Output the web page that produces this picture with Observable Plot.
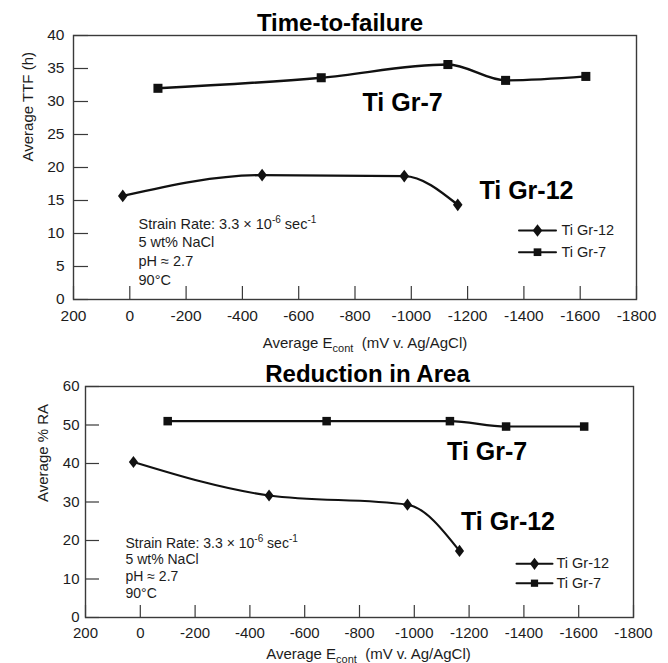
<!DOCTYPE html>
<html><head><meta charset="utf-8">
<script src="https://cdn.jsdelivr.net/npm/d3@7"></script>
<script src="https://cdn.jsdelivr.net/npm/@observablehq/plot@0.6"></script>
<style>
body{margin:0;background:#fff;font-family:"Liberation Sans",Arial,Helvetica,sans-serif;}
#c{width:668px;height:663px;overflow:hidden;}
#c svg{display:block;}
</style></head><body><div id="c"></div>
<script>
// ---- data ----
const xTicks = [200, 0, -200, -400, -600, -800, -1000, -1200, -1400, -1600, -1800];
const ttfTicks = [0, 5, 10, 15, 20, 25, 30, 35, 40];
const raTicks = [0, 10, 20, 30, 40, 50, 60];
const seriesNames = ["Ti Gr-12", "Ti Gr-7"];
const econt12 = [25, -470, -975, -1165];
const econt7 = [-100, -680, -1130, -1335, -1620];
const ttf12 = [15.7, 18.85, 18.7, 14.35];
const ttf7 = [32.0, 33.6, 35.6, 33.2, 33.8];
const ra12 = [40.4, 31.7, 29.3, 17.3];
const ra7 = [51.0, 51.0, 51.0, 49.6, 49.6];
const conditions = ["Strain Rate: 3.3 \u00d7 10^{-6} sec^{-1}", "5 wt% NaCl", "pH \u2248 2.7", "90\u00b0C"];
const xLabel = "Average E_{cont}  (mV v. Ag/AgCl)";
const titles = ["Time-to-failure", "Reduction in Area"];
const yLabels = ["Average TTF (h)", "Average % RA"];

const FONT = "'Liberation Sans', Arial, Helvetica, sans-serif";
const INK = "#1c1c1c";

const diamond = {draw(ctx, size) {
  const h = Math.sqrt(size / 1.5), w = h * 0.75;
  ctx.moveTo(0, -h); ctx.lineTo(w, 0); ctx.lineTo(0, h); ctx.lineTo(-w, 0); ctx.closePath();
}};
const segment = {draw(ctx, l) { ctx.moveTo(0, 0); ctx.lineTo(0, -l); }};

function richify(svg) {
  const ns = "http://www.w3.org/2000/svg";
  d3.select(svg).selectAll("text").each(function() {
    const t = this.textContent;
    if (!/[_^]\{/.test(t)) return;
    const parts = t.split(/([_^]\{[^}]*\})/).filter(p => p);
    while (this.firstChild) this.removeChild(this.firstChild);
    let shift = 0;
    for (const p of parts) {
      const ts = document.createElementNS(ns, "tspan");
      if (p.startsWith("_{") || p.startsWith("^{")) {
        const s = p.startsWith("_{") ? 4 : -6;
        ts.textContent = p.slice(2, -1);
        ts.setAttribute("dy", s - shift);
        ts.setAttribute("font-size", p.startsWith("_{") ? "11" : "10");
        shift = s;
      } else {
        ts.textContent = p;
        if (shift) ts.setAttribute("dy", -shift);
        shift = 0;
      }
      this.appendChild(ts);
    }
  });
}

function chart(cfg) {
  const W = 668;
  const fw = W - cfg.ml - cfg.mr, fh = cfg.h - cfg.mt - cfg.mb;
  const d12 = econt12.map((x, i) => ({x, y: cfg.v12[i]}));
  const d7 = econt7.map((x, i) => ({x, y: cfg.v7[i]}));
  const n = conditions.length;
  const marks = [
    Plot.frame({stroke: "#3a3a3a", strokeWidth: 1.4}),
    Plot.tickY(cfg.yTicks, {y: d => d, insetRight: fw - cfg.yTickLen, stroke: "#3a3a3a", strokeWidth: 1.2}),
    Plot.tickX(xTicks, {x: d => d, insetTop: fh - cfg.xTickLen, stroke: "#3a3a3a", strokeWidth: 1.2}),
    Plot.axisX({ticks: xTicks, tickSize: 0, tickPadding: cfg.xPad, tickFormat: d => String(d), fontSize: cfg.tickFont, label: null, fill: INK}),
    Plot.axisY({ticks: cfg.yTicks, tickSize: 0, tickPadding: cfg.yPad, tickFormat: d => String(d), fontSize: cfg.tickFont, label: null, fill: INK}),
    Plot.line(d12, {x: "x", y: "y", curve: "monotone-x", stroke: "#111", strokeWidth: cfg.lw}),
    Plot.line(d7, {x: "x", y: "y", curve: "monotone-x", stroke: "#111", strokeWidth: cfg.lw}),
    Plot.dot(d12, {x: "x", y: "y", symbol: diamond, r: cfg.dr, fill: "#111", stroke: "none"}),
    Plot.dot(d7, {x: "x", y: "y", symbol: "square", r: cfg.sr, fill: "#111", stroke: "none"}),
    // title
    Plot.text([cfg.title], {frameAnchor: "top", text: d => d, dx: cfg.titleDx, dy: cfg.titleDy, lineAnchor: "bottom", fontSize: cfg.titleFont, fontWeight: "bold", fill: "#000"}),
    // axis labels
    Plot.text([cfg.yLabel], {frameAnchor: "left", text: d => d, dx: cfg.yLabDx, dy: cfg.yLabDy, rotate: -90, lineAnchor: "middle", fontSize: cfg.labFont, fill: INK}),
    Plot.text([xLabel], {frameAnchor: "bottom", text: d => d, dx: cfg.xLabDx, dy: cfg.xLabDy, lineAnchor: "bottom", fontSize: cfg.labFont, fill: INK}),
    // conditions
    ...conditions.map((t, i) => Plot.text([t], {frameAnchor: "bottom-left", text: d => d, dx: cfg.annDx, dy: -cfg.annBottom - (n - 1 - i) * cfg.annStep, textAnchor: "start", lineAnchor: "bottom", fontSize: cfg.annFont, fill: INK})),
    // series labels
    Plot.text(cfg.seriesLabels, {x: "x", y: "y", text: "name", lineAnchor: "bottom", fontSize: cfg.serFont, fontWeight: "bold", fill: "#000"}),
    // legend
    ...seriesNames.flatMap((name, i) => [
      Plot.vector([name], {frameAnchor: "top-right", dx: cfg.legDx, dy: cfg.legDy[i], length: cfg.legLen, rotate: 90, anchor: "middle", shape: segment, stroke: "#111", strokeWidth: 2}),
      Plot.dot([name], {frameAnchor: "top-right", dx: cfg.legDx, dy: cfg.legDy[i], symbol: i === 0 ? diamond : "square", r: i === 0 ? cfg.dr : cfg.sr * 0.85, fill: "#111"}),
      Plot.text([name], {frameAnchor: "top-right", text: d => d, dx: cfg.legTextDx, dy: cfg.legDy[i], textAnchor: "start", lineAnchor: "middle", fontSize: cfg.legFont, fill: INK})
    ])
  ];
  const svg = Plot.plot({
    width: W, height: cfg.h,
    marginLeft: cfg.ml, marginRight: cfg.mr, marginTop: cfg.mt, marginBottom: cfg.mb,
    style: {fontFamily: FONT, fontSize: cfg.tickFont + "px", background: "#fff", color: INK, overflow: "visible"},
    x: {domain: [200, -1800]},
    y: {domain: cfg.yDomain},
    marks
  });
  richify(svg);
  return svg;
}

const c = document.getElementById("c");
c.appendChild(chart({
  h: 352, ml: 73, mr: 32, mt: 35, mb: 53,
  yTicks: ttfTicks, yDomain: [0, 40], v12: ttf12, v7: ttf7,
  title: titles[0], titleDx: -15, titleDy: -5, titleFont: 24,
  yLabel: yLabels[0], yLabDx: -45, yLabDy: -6,
  xLabDx: 10, xLabDy: 48, labFont: 15,
  tickFont: 15.5, xPad: 10, yPad: 9, yTickLen: 15, xTickLen: 13,
  lw: 2.4, dr: 4.4, sr: 5.1,
  annDx: 65, annBottom: 15, annStep: 18.6, annFont: 14.5,
  seriesLabels: [{name: "Ti Gr-7", x: -969, y: 28.5}, {name: "Ti Gr-12", x: -1409, y: 15.2}], serFont: 25,
  legDx: -99, legDy: [195, 216.7], legLen: 37, legTextDx: -75, legFont: 14.5
}));
c.appendChild(chart({
  h: 311, ml: 85, mr: 35, mt: 34, mb: 46,
  yTicks: raTicks, yDomain: [0, 60], v12: ra12, v7: ra7,
  title: titles[1], titleDx: 8, titleDy: -5, titleFont: 24,
  yLabel: yLabels[1], yLabDx: -42, yLabDy: 0,
  xLabDx: 9, xLabDy: 41, labFont: 15,
  tickFont: 15, xPad: 10, yPad: 6, yTickLen: 14, xTickLen: 12,
  lw: 2.1, dr: 4.2, sr: 4.8,
  annDx: 40, annBottom: 20, annStep: 16.6, annFont: 14,
  seriesLabels: [{name: "Ti Gr-7", x: -1266, y: 40.8}, {name: "Ti Gr-12", x: -1342, y: 22.6}], serFont: 25,
  legDx: -99, legDy: [177.3, 196.7], legLen: 36, legTextDx: -77, legFont: 14.5
}));
</script>
</body></html>
